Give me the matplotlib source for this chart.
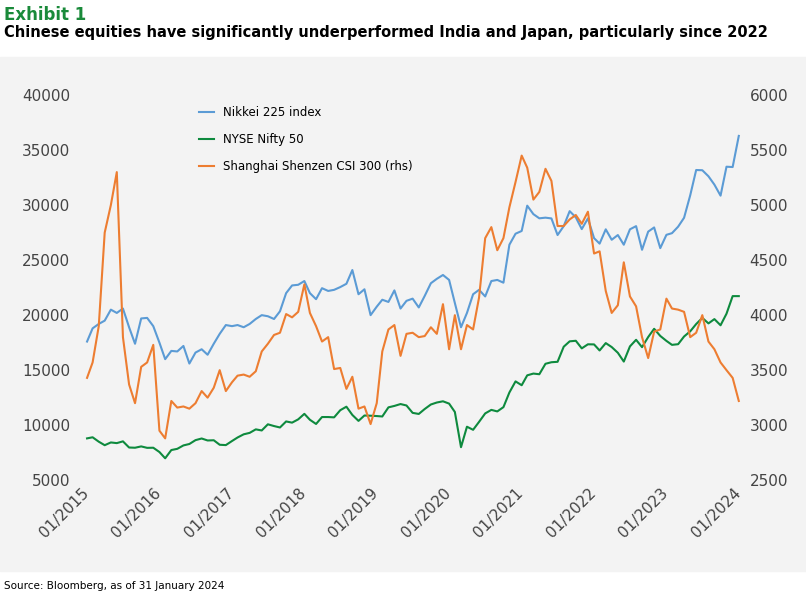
#plot_exhibit1.py
import numpy as np
import pandas as pd
import matplotlib.pyplot as plt
import matplotlib.dates as mdates
from matplotlib.patches import Rectangle

dates = pd.date_range('2015-01-31', periods=109, freq='ME')

nikkei = [17600,18800,19200,19500,20500,20200,20600,18900,17400,19700,19750,19000,
          17500,16000,16750,16700,17200,15600,16600,16900,16400,17400,18300,19100,
          19000,19100,18900,19200,19650,20000,19900,19650,20350,22000,22700,22760,
          23100,22000,21450,22450,22200,22300,22550,22850,24100,21900,22350,20000,
          20770,21400,21200,22250,20600,21300,21500,20700,21750,22900,23300,23650,
          23200,21100,18900,20200,21900,22300,21700,23100,23200,22950,26400,27400,
          27650,29950,29180,28800,28860,28790,27280,28090,29450,28890,27820,28790,
          27000,26500,27800,26850,27280,26400,27800,28090,25940,27590,27970,26090,
          27300,27450,28040,28850,30890,33190,33170,32620,31860,30860,33490,33460,
          36290]

nifty = [8800,8900,8500,8180,8430,8370,8530,7970,7950,8070,7940,7950,
         7560,6990,7740,7850,8160,8290,8640,8790,8610,8630,8220,8190,
         8560,8880,9170,9300,9620,9520,10080,9920,9790,10340,10230,10530,
         11030,10490,10110,10740,10740,10710,11360,11680,10930,10390,10880,10860,
         10830,10790,11620,11750,11920,11790,11120,11020,11470,11880,12060,12170,
         11960,11200,8000,9860,9580,10300,11070,11390,11250,11640,12970,13980,
         13630,14530,14690,14630,15580,15720,15760,17130,17620,17670,16980,17350,
         17340,16790,17460,17100,16580,15780,17160,17760,17090,18010,18760,18110,
         17660,17300,17360,18060,18530,19190,19750,19250,19640,19080,20130,21730,
         21730]

csi300 = [3430,3570,3900,4750,5000,5300,3800,3370,3200,3530,3570,3730,
          2950,2880,3220,3160,3170,3150,3200,3310,3250,3340,3500,3310,
          3390,3450,3460,3440,3490,3670,3740,3820,3840,4010,3980,4030,
          4280,4020,3900,3760,3800,3510,3520,3330,3440,3150,3170,3010,
          3200,3670,3870,3910,3630,3830,3840,3800,3810,3890,3830,4100,
          3690,4000,3690,3910,3870,4160,4700,4800,4590,4700,4980,5210,
          5450,5340,5050,5120,5330,5220,4810,4810,4870,4910,4830,4940,
          4560,4580,4220,4020,4090,4480,4170,4080,3800,3610,3850,3870,
          4150,4060,4050,4030,3800,3840,4000,3760,3690,3570,3500,3430,
          3220]

def main():
    fig = plt.figure(figsize=(8.06,5.98), dpi=100)
    fig.patches.append(Rectangle((0,0.045), 1, 0.86, transform=fig.transFigure,
                                 color='#f3f3f3', zorder=-1))
    fig.text(0.005, 0.975, 'Exhibit 1', color='#1a8a3a', fontsize=12, fontweight='bold', va='center')
    fig.text(0.005, 0.945, 'Chinese equities have significantly underperformed India and Japan, particularly since 2022',
             fontsize=10.5, fontweight='bold', va='center')
    fig.text(0.005, 0.02, 'Source: Bloomberg, as of 31 January 2024', fontsize=7.5, va='center')

    ax = fig.add_axes([0.093, 0.197, 0.831, 0.644])
    ax.set_facecolor('none')
    l1, = ax.plot(dates, nikkei, color='#5b9bd5', lw=1.5, label='Nikkei 225 index')
    l2, = ax.plot(dates, nifty, color='#0e8a3e', lw=1.5, label='NYSE Nifty 50')
    ax.set_ylim(5000, 40000)
    ax.set_yticks(np.arange(5000, 40001, 5000))
    ax2 = ax.twinx()
    l3, = ax2.plot(dates, csi300, color='#ed7d31', lw=1.5, label='Shanghai Shenzen CSI 300 (rhs)')
    ax2.set_ylim(2500, 6000)
    ax2.set_yticks(np.arange(2500, 6001, 500))
    for a in (ax, ax2):
        for s in a.spines.values():
            s.set_visible(False)
        a.tick_params(axis='both', length=0, labelsize=11, colors='#444444')
    ax.set_xlim(pd.Timestamp('2014-12-01'), pd.Timestamp('2024-03-01'))
    ax.xaxis.set_major_locator(mdates.YearLocator())
    ax.xaxis.set_major_formatter(mdates.DateFormatter('%m/%Y'))
    plt.setp(ax.get_xticklabels(), rotation=45, ha='right', rotation_mode='anchor')
    ax.legend(handles=[l1, l2, l3], loc='upper left', bbox_to_anchor=(0.17, 1.0),
              frameon=False, fontsize=8.5, handlelength=1.2, labelspacing=1.2)
    plt.savefig('out.png', dpi=100)

main()
